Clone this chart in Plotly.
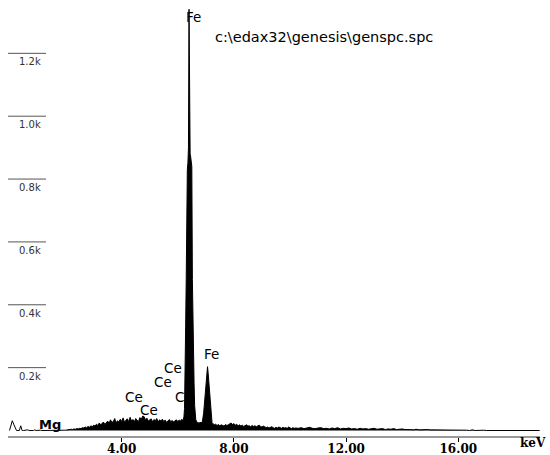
import plotly.graph_objects as go

# ---------------- data (counts per channel) ----------------
# channel grids: (start keV, step keV) ; counts hand-read
low_start, low_step = 0.0, 0.05
low_counts = [0, 14, 31, 20, 8, 0, 0, 0, 15, 0, 0, 1, 0, 2, 0, 1, 0, 0, 2, 0,
              1, 0, 1, 0, 0, 1, 0, 2, 0, 0, 1, 0, 0, 1, 0, 0, 1, 0, 1, 0, 1]

mid_start, mid_step = 2.0, 0.05
mid_counts = [1, 2, 2, 3, 4, 3, 5, 4, 6, 5,
              7, 6, 9, 8, 11, 9, 13, 10, 15, 12,
              17, 14, 20, 16, 24, 18, 22, 27, 19, 25,
              30, 22, 34, 26, 28, 38, 24, 31, 27, 36,
              29, 40, 26, 33, 37, 28, 42, 30, 35, 27,
              38, 32, 29, 41, 36, 46, 44, 34, 39, 30,
              33, 37, 28, 35, 31, 38, 27, 34, 30, 36,
              29, 33, 26, 31, 35, 28, 32, 27, 30, 34,
              29, 33, 30, 36]

ka_start, ka_step = 6.16, 0.02
ka_counts = [33, 30, 35, 45, 70, 150, 330, 480, 800, 830, 850, 900, 1340, 905,
             880, 870, 860, 840, 480, 330, 250, 150, 80, 45, 35, 30, 27, 24, 26,
             22, 25, 23, 27, 24, 26]

kb_start, kb_step = 6.86, 0.02
kb_counts = [25, 30, 40, 55, 75, 100, 125, 150, 175, 195, 203, 185, 160, 125,
             95, 70, 50, 35, 25]

high_start, high_step = 7.25, 0.05
high_counts = [22, 18, 20, 16, 19, 15, 18, 17, 14, 19,
               16, 18, 21, 24, 19, 22, 17, 20, 15, 18,
               14, 17, 13, 16, 18, 14, 15, 12, 16, 13,
               15, 12, 14, 17, 13, 11, 14, 12, 9, 11,
               8, 10, 12, 9, 7, 10, 8, 11, 9, 7,
               10, 8, 9, 7, 11, 8, 6, 9, 7, 8]

tail_start, tail_step = 10.3, 0.1
tail_counts = [7, 9, 6, 8, 10, 7, 6, 8, 9, 6,
               7, 5, 8, 6, 9, 5, 7, 6, 8, 5,
               6, 4, 7, 5, 6, 4, 5, 7, 4, 5,
               6, 3, 5, 4, 6, 3, 4, 5, 3, 4,
               3, 2, 4, 2, 3, 2, 3, 2, 2, 3,
               2, 1, 2, 3, 1, 2, 1, 2, 1, 2,
               1, 0, 2, 0, 1, 0, 1, 0, 0, 1,
               0, 0, 0, 0, 0, 0, 0, 0, 0, 0,
               0, 0, 0, 0, 0, 0, 0]

y_tick_vals = [200, 400, 600, 800, 1000, 1200]
y_tick_text = ["0.2k", "0.4k", "0.6k", "0.8k", "1.0k", "1.2k"]
x_tick_vals = [4, 8, 12, 16]
x_tick_text = ["4.00", "8.00", "12.00", "16.00"]

peak_labels = ["Fe", "Fe", "Ce", "Ce", "Ce", "C", "Ce", "Mg"]
file_label = r"c:\edax32\genesis\genspc.spc"


def channels(start, step, counts):
    return [round(start + step * i, 4) for i in range(len(counts))]


low_x = channels(low_start, low_step, low_counts)
main_x = (channels(mid_start, mid_step, mid_counts)
          + channels(ka_start, ka_step, ka_counts)
          + channels(kb_start, kb_step, kb_counts)
          + channels(high_start, high_step, high_counts)
          + channels(tail_start, tail_step, tail_counts))
main_y = mid_counts + ka_counts + kb_counts + high_counts + tail_counts

fig = go.Figure()
fig.add_trace(go.Scatter(x=low_x, y=low_counts, mode="lines",
                         line=dict(color="black", width=1), hoverinfo="skip"))
fig.add_trace(go.Scatter(x=main_x, y=main_y, mode="lines", fill="tozeroy",
                         fillcolor="black",
                         line=dict(color="black", width=1), hoverinfo="skip"))

# y "ticks": short horizontal lines with labels underneath
shapes = []
annotations = []
for v, t in zip(y_tick_vals, y_tick_text):
    shapes.append(dict(type="line", xref="paper", yref="y", x0=0.0, x1=0.0714,
                       y0=v, y1=v, line=dict(color="#555555", width=1)))
    annotations.append(dict(xref="paper", yref="y", x=0.017, y=v, text=t,
                            showarrow=False, xanchor="left", yanchor="top",
                            yshift=-1,
                            font=dict(family="DejaVu Sans", size=10, color="#333333")))

# peak label placements (keV, counts)
label_pos = [(6.22, 1316), (6.85, 243), (5.43, 199), (5.07, 154),
             (4.05, 108), (5.83, 108), (4.58, 65), (0.97, 19)]
for txt, (xk, yc) in zip(peak_labels, label_pos):
    annotations.append(dict(x=xk, y=yc, text=("<b>%s</b>" % txt) if txt == "Mg" else txt,
                            showarrow=False, xanchor="left", yanchor="middle",
                            font=dict(family="DejaVu Sans", size=13.5 if txt != "Mg" else 13,
                                      color="black")))

annotations.append(dict(x=7.26, y=1253, text=file_label, showarrow=False,
                        xanchor="left", yanchor="middle",
                        font=dict(family="DejaVu Sans", size=14.5, color="black")))
annotations.append(dict(xref="paper", yref="paper", x=1.0, y=-0.017, text="<b>keV</b>",
                        showarrow=False, xanchor="center", yanchor="middle", xshift=-7,
                        font=dict(family="DejaVu Serif", size=12, color="black")))

fig.update_layout(
    width=550, height=455, autosize=False,
    margin=dict(l=8, r=10, t=2, b=19, pad=0, autoexpand=False),
    paper_bgcolor="white", plot_bgcolor="white",
    showlegend=False,
    shapes=shapes, annotations=annotations,
    xaxis=dict(range=[-0.0535, 18.913], showgrid=False, zeroline=False,
               automargin=False,
               showline=True, linecolor="#999999", linewidth=2,
               ticks="outside", ticklen=4, tickwidth=1, tickcolor="black",
               ticklabelstandoff=-3,
               tickvals=x_tick_vals, ticktext=x_tick_text,
               tickfont=dict(family="DejaVu Serif", size=12, color="black", weight="bold")),
    yaxis=dict(range=[-17.5, 1363.3], visible=False, showgrid=False, zeroline=False,
               automargin=False),
)

fig.write_html("out.html", config={"displayModeBar": False},
               post_script="document.body.style.margin='0';document.body.style.overflow='hidden';")
